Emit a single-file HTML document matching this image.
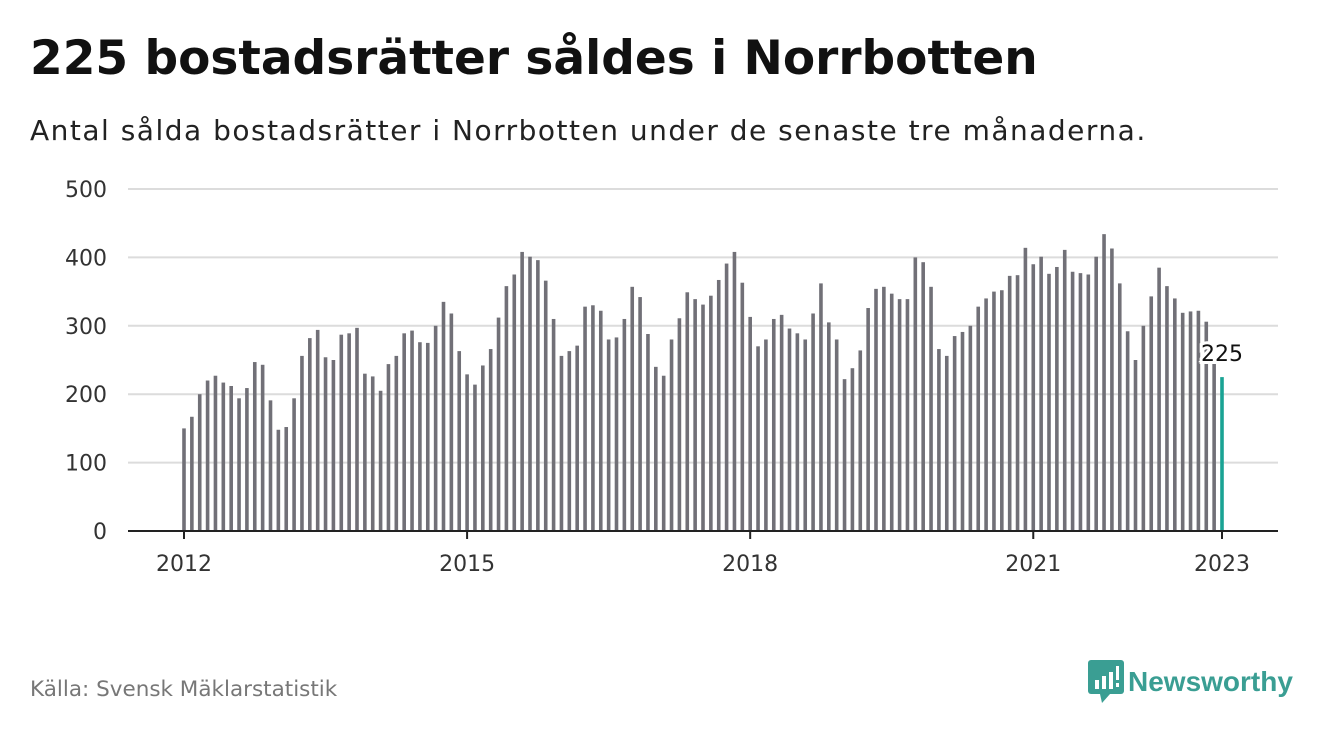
<!DOCTYPE html>
<html><head><meta charset="utf-8"><style>
body{margin:0;width:1340px;height:734px;background:#fff;font-family:"DejaVu Sans","Liberation Sans",sans-serif;overflow:hidden;position:relative}
#title{position:absolute;left:30px;top:31px;font-size:47px;font-weight:bold;color:#111;margin:0;white-space:nowrap}
#sub{position:absolute;left:30px;top:114px;font-size:28px;letter-spacing:1.5px;color:#222;white-space:nowrap}
#src{position:absolute;left:30px;top:677px;font-size:21.5px;color:#777}
#logo{position:absolute;left:1088px;top:660px;display:flex;align-items:center}
</style></head><body>
<h1 id="title">225 bostadsrätter såldes i Norrbotten</h1>
<div id="sub">Antal sålda bostadsrätter i Norrbotten under de senaste tre månaderna.</div>
<svg id="chart" width="1340" height="734" style="position:absolute;left:0;top:0"></svg>
<div id="src">Källa: Svensk Mäklarstatistik</div>
<div id="logo">
<svg width="36" height="44"><rect x="0" y="0" width="36" height="34" rx="3" fill="#3a9e93"/><polygon points="12,34 22,34 14,43" fill="#3a9e93"/><rect x="7" y="20" width="4" height="9" fill="#fff"/><rect x="14" y="16" width="4" height="13" fill="#fff"/><rect x="21" y="12" width="4" height="17" fill="#fff"/><rect x="28" y="6" width="3" height="14" fill="#fff"/><rect x="28" y="23" width="3" height="4" fill="#fff"/></svg>
<span style="font-size:28px;color:#3a9e93;margin-left:4px;font-weight:bold;font-family:'Liberation Sans',sans-serif">Newsworthy</span>
</div>
<script>
const values2012=[150,167,200,220,227,217,212,194,209,247,243,191];
const values2013=[148,152,194,256,282,294,254,250,287,289,297,230];
const values2014=[226,205,244,256,289,293,276,275,300,335,318,263];
const values2015=[229,214,242,266,312,358,375,408,401,396,366,310];
const values2016=[256,263,271,328,330,322,280,283,310,357,342,288];
const values2017=[240,227,280,311,349,339,331,344,367,391,408,363];
const values2018=[313,270,280,310,316,296,289,280,318,362,305,280];
const values2019=[222,238,264,326,354,357,347,339,339,400,393,357];
const values2020=[266,256,285,291,300,328,340,350,352,373,374,414];
const values2021=[390,401,376,386,411,379,377,375,401,434,413,362];
const values2022=[292,250,300,343,385,358,340,319,321,322,306,245];
const values2023=[225];
const yTicks=[0,100,200,300,400,500];
const xTickYears=[2012,2015,2018,2021,2023];
const values=[].concat(values2012,values2013,values2014,values2015,values2016,values2017,values2018,values2019,values2020,values2021,values2022,values2023);
const NS="http://www.w3.org/2000/svg";
const svg=document.getElementById('chart');
const x0=184,x1=1222,n0=0,n1=132;
const xs=i=>x0+(i-n0)*(x1-x0)/(n1-n0);
const ys=v=>531-v*(342/500);
const FF='DejaVu Sans, Liberation Sans, sans-serif';
function mk(t,a){const e=document.createElementNS(NS,t);for(const k in a)e.setAttribute(k,a[k]);svg.appendChild(e);return e;}
yTicks.forEach(v=>{
 if(v>0){const g=mk('line',{x1:128,x2:1278,y1:ys(v),y2:ys(v),stroke:'#dcdcdc','stroke-width':2});
 
 }
 const t=mk('text',{x:107,y:ys(v)+8,'text-anchor':'end','font-size':22,fill:'#333','font-family':FF});
 t.textContent=v;
 
 
});
values.forEach((v,i)=>{
 const last=i===values.length-1;
 const r=mk('rect',{x:xs(i)-1.8,y:ys(v),width:3.6,height:531-ys(v),fill:last?'#1aa394':'#717077'});
 
 
});
const ax=mk('line',{x1:128,x2:1278,y1:531,y2:531,stroke:'#222','stroke-width':2});


xTickYears.forEach(y=>{
 const i=(y-2012)*12;
 const tk=mk('line',{x1:xs(i),x2:xs(i),y1:531,y2:539,stroke:'#222','stroke-width':2});
 
 
 const t=mk('text',{x:xs(i),y:571,'text-anchor':'middle','font-size':22,fill:'#333','font-family':FF});
 t.textContent=y;
 
 
});
const li=values.length-1;
const lb=mk('text',{x:xs(li),y:ys(values[li])-16,'text-anchor':'middle','font-size':22,fill:'#111',stroke:'#fff','stroke-width':6,'paint-order':'stroke','font-family':FF});
lb.textContent=values[li];


</script>
</body></html>
